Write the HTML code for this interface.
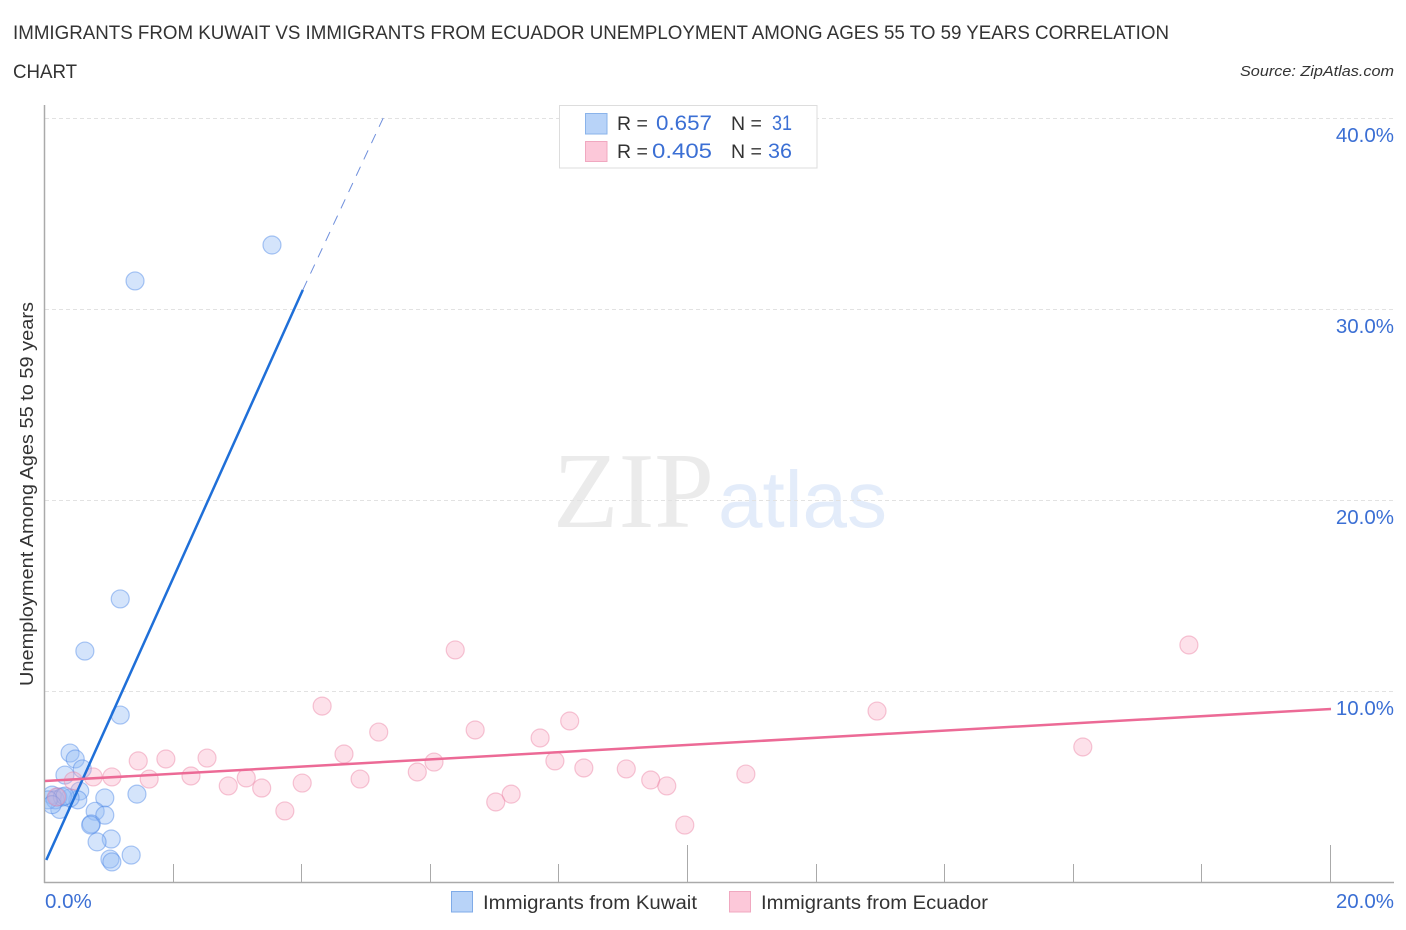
<!DOCTYPE html>
<html lang="en">
<head>
<meta charset="utf-8">
<title>Immigrants from Kuwait vs Immigrants from Ecuador Correlation Chart</title>
<style>
html,body{margin:0;padding:0;background:#fff;}
#chart{display:block;width:1406px;height:930px;font-family:"Liberation Sans",sans-serif;}
</style>
</head>
<body>
<svg id="chart" xmlns="http://www.w3.org/2000/svg" width="1406" height="930" viewBox="0 0 1406 930">
  <defs>
    <clipPath id="plot-clip"><rect x="45" y="100" width="1350" height="783"/></clipPath>
  </defs>
  <rect width="1406" height="930" fill="#ffffff"/>
  <text x="13" y="39" font-size="19.5" fill="#333333" textLength="1156" lengthAdjust="spacingAndGlyphs">IMMIGRANTS FROM KUWAIT VS IMMIGRANTS FROM ECUADOR UNEMPLOYMENT AMONG AGES 55 TO 59 YEARS CORRELATION</text>
  <text x="13" y="78" font-size="19.5" fill="#333333" textLength="64" lengthAdjust="spacingAndGlyphs">CHART</text>
  <text x="1394" y="76" font-size="15" font-style="italic" fill="#333333" text-anchor="end" textLength="154" lengthAdjust="spacingAndGlyphs">Source: ZipAtlas.com</text>

  <g>
    <text x="553" y="527" font-family="'Liberation Serif',serif" font-size="108" fill="#ebebeb" textLength="161" lengthAdjust="spacingAndGlyphs">ZIP</text>
    <text x="718" y="527" font-size="80" fill="#e3ecfa" textLength="169" lengthAdjust="spacingAndGlyphs">atlas</text>
  </g>

  <g id="grid"></g>
  <g id="axes"></g>
  <g id="points-kuwait" clip-path="url(#plot-clip)"></g>
  <g id="points-ecuador" clip-path="url(#plot-clip)"></g>
  <g id="trends" clip-path="url(#plot-clip)"></g>
  <g id="tick-labels"></g>

  <text transform="translate(33,494) rotate(-90)" font-size="18.5" fill="#333333" text-anchor="middle" textLength="384" lengthAdjust="spacingAndGlyphs">Unemployment Among Ages 55 to 59 years</text>

  <g>
    <rect x="559.5" y="105.5" width="257.5" height="62.5" fill="#ffffff" stroke="#dddddd" stroke-width="1"/>
    <rect x="585.5" y="113.5" width="21.5" height="20.5" fill="#b8d3f8" stroke="#8ab3ea" stroke-width="1"/>
    <rect x="585.5" y="141.5" width="21.5" height="20" fill="#fcc8d9" stroke="#f0a8c0" stroke-width="1"/>
    <text x="617" y="130" font-size="19.5" fill="#333333">R =</text>
    <text x="656" y="130" font-size="21.5" fill="#3b6fd4" textLength="56" lengthAdjust="spacingAndGlyphs">0.657</text>
    <text x="731" y="130" font-size="19.5" fill="#333333">N =</text>
    <text x="772" y="130" font-size="21.5" fill="#3b6fd4" textLength="20" lengthAdjust="spacingAndGlyphs">31</text>
    <text x="617" y="158" font-size="19.5" fill="#333333">R =</text>
    <text x="652" y="158" font-size="21.5" fill="#3b6fd4" textLength="60" lengthAdjust="spacingAndGlyphs">0.405</text>
    <text x="731" y="158" font-size="19.5" fill="#333333">N =</text>
    <text x="768" y="158" font-size="21.5" fill="#3b6fd4" textLength="24" lengthAdjust="spacingAndGlyphs">36</text>
  </g>

  <g>
    <rect x="451.5" y="891.5" width="21" height="20.5" fill="#b8d3f8" stroke="#7fabe8" stroke-width="1"/>
    <text x="483" y="909" font-size="19" fill="#333333" textLength="214" lengthAdjust="spacingAndGlyphs">Immigrants from Kuwait</text>
    <rect x="729.5" y="891.5" width="21" height="20.5" fill="#fcc8d9" stroke="#f0a8c0" stroke-width="1"/>
    <text x="761" y="909" font-size="19" fill="#333333" textLength="227" lengthAdjust="spacingAndGlyphs">Immigrants from Ecuador</text>
  </g>
</svg>
<script>
const yTicks = [10, 20, 30, 40];
const yTickLabels = ["10.0%", "20.0%", "30.0%", "40.0%"];
const xTicks = [0, 2, 4, 6, 8, 10, 12, 14, 16, 18, 20];
const xLabelTicks = [0, 20];
const xTickLabels = ["0.0%", "20.0%"];

const kuwaitX = [3.53, 1.40, 1.17, 0.62, 1.17, 0.39, 0.47, 0.58, 0.31, 1.43, 0.93, 0.54, 0.51, 0.39, 0.78, 0.93, 0.72, 0.71, 1.03, 0.81, 1.01, 1.04, 1.34, 0.23, 0.20, 0.11, 0.16, 0.27, 0.31, 0.05, 0.11];
const kuwaitY = [33.35, 31.47, 14.82, 12.09, 8.74, 6.75, 6.44, 5.92, 5.60, 4.60, 4.40, 4.76, 4.30, 4.40, 3.70, 3.50, 3.04, 2.98, 2.25, 2.10, 1.20, 1.05, 1.41, 3.80, 4.45, 4.55, 4.30, 4.45, 4.50, 4.30, 4.05];

const ecuadorX = [17.79, 6.38, 4.31, 12.94, 8.16, 5.19, 6.69, 7.70, 16.14, 4.65, 1.45, 1.88, 2.52, 6.05, 7.93, 8.38, 9.04, 10.90, 5.79, 4.90, 3.13, 2.27, 1.62, 1.04, 0.75, 0.44, 4.00, 9.42, 9.67, 2.85, 3.37, 7.25, 7.01, 3.73, 9.95, 0.18];
const ecuadorY = [12.41, 12.15, 9.21, 8.95, 8.43, 7.85, 7.96, 7.54, 7.07, 6.70, 6.34, 6.44, 6.49, 6.28, 6.34, 5.97, 5.92, 5.65, 5.76, 5.39, 5.45, 5.55, 5.39, 5.50, 5.50, 5.29, 5.18, 5.34, 5.03, 5.03, 4.92, 4.60, 4.19, 3.72, 2.98, 4.45];

const kuwaitTrendX = [0.02, 4.01];
const kuwaitTrendY = [1.15, 31.0];
const kuwaitProjectionX = [4.01, 5.26];
const kuwaitProjectionY = [31.0, 40.0];
const ecuadorTrendX = [0, 20];
const ecuadorTrendY = [5.29, 9.06];

const SVG_NS = "http://www.w3.org/2000/svg";
function xScale(v) { return 45 + v * 64.3; }
function yScale(v) { return 882 - v * 19.1; }
function make(tag, parentId) {
  const el = document.createElementNS(SVG_NS, tag);
  document.getElementById(parentId).appendChild(el);
  return el;
}

yTicks.forEach(function (t, i) {
  const line = make("line", "grid");
  line.setAttribute("x1", 45);
  line.setAttribute("x2", 1394);
  line.setAttribute("y1", yScale(t) + 0.5);
  line.setAttribute("y2", yScale(t) + 0.5);
  line.setAttribute("stroke", "#e2e2e2");
  line.setAttribute("stroke-width", 1);
  line.setAttribute("stroke-dasharray", "4 3");
  
  

  const label = make("text", "tick-labels");
  label.setAttribute("x", 1394);
  label.setAttribute("y", yScale(t) + 24);
  label.setAttribute("font-size", 20.5);
  label.setAttribute("fill", "#3b6fd4");
  label.setAttribute("text-anchor", "end");
  label.textContent = yTickLabels[i];
  
  
});

const yAxisLine = make("line", "axes");
yAxisLine.setAttribute("x1", 44.5);
yAxisLine.setAttribute("x2", 44.5);
yAxisLine.setAttribute("y1", 105);
yAxisLine.setAttribute("y2", 883);
yAxisLine.setAttribute("stroke", "#aaaaaa");
yAxisLine.setAttribute("stroke-width", 1.5);



const xAxisLine = make("line", "axes");
xAxisLine.setAttribute("x1", 44);
xAxisLine.setAttribute("x2", 1394);
xAxisLine.setAttribute("y1", 882.5);
xAxisLine.setAttribute("y2", 882.5);
xAxisLine.setAttribute("stroke", "#aaaaaa");
xAxisLine.setAttribute("stroke-width", 1.5);



xTicks.forEach(function (t) {
  if (t === 0) { return; }
  const tick = make("line", "axes");
  tick.setAttribute("x1", Math.round(xScale(t)) - 0.5);
  tick.setAttribute("x2", Math.round(xScale(t)) - 0.5);
  tick.setAttribute("y1", t % 10 === 0 ? 845 : 864);
  tick.setAttribute("y2", 882);
  tick.setAttribute("stroke", "#aaaaaa");
  tick.setAttribute("stroke-width", 1);
  
  
});

xLabelTicks.forEach(function (t, i) {
  const label = make("text", "tick-labels");
  label.setAttribute("x", i === 0 ? 45 : 1394);
  label.setAttribute("y", 908);
  label.setAttribute("font-size", 20.5);
  label.setAttribute("fill", "#3b6fd4");
  label.setAttribute("text-anchor", i === 0 ? "start" : "end");
  label.textContent = xTickLabels[i];
  
  
});

kuwaitX.forEach(function (v, i) {
  const dot = make("circle", "points-kuwait");
  dot.setAttribute("cx", xScale(v));
  dot.setAttribute("cy", yScale(kuwaitY[i]));
  dot.setAttribute("r", 9);
  dot.setAttribute("fill", "rgba(147,187,245,0.4)");
  dot.setAttribute("stroke", "rgba(74,133,230,0.45)");
  dot.setAttribute("stroke-width", 1.2);
  
  
});

ecuadorX.forEach(function (v, i) {
  const dot = make("circle", "points-ecuador");
  dot.setAttribute("cx", xScale(v));
  dot.setAttribute("cy", yScale(ecuadorY[i]));
  dot.setAttribute("r", 9);
  dot.setAttribute("fill", "rgba(250,170,195,0.35)");
  dot.setAttribute("stroke", "rgba(235,130,165,0.45)");
  dot.setAttribute("stroke-width", 1.2);
  
  
});

const kuwaitProjection = make("line", "trends");
kuwaitProjection.setAttribute("x1", xScale(kuwaitProjectionX[0]));
kuwaitProjection.setAttribute("y1", yScale(kuwaitProjectionY[0]));
kuwaitProjection.setAttribute("x2", xScale(kuwaitProjectionX[1]));
kuwaitProjection.setAttribute("y2", yScale(kuwaitProjectionY[1]));
kuwaitProjection.setAttribute("stroke", "#6f8fdc");
kuwaitProjection.setAttribute("stroke-width", 1);
kuwaitProjection.setAttribute("stroke-dasharray", "10 8");



const kuwaitTrend = make("line", "trends");
kuwaitTrend.setAttribute("x1", xScale(kuwaitTrendX[0]));
kuwaitTrend.setAttribute("y1", yScale(kuwaitTrendY[0]));
kuwaitTrend.setAttribute("x2", xScale(kuwaitTrendX[1]));
kuwaitTrend.setAttribute("y2", yScale(kuwaitTrendY[1]));
kuwaitTrend.setAttribute("stroke", "#1f6fd8");
kuwaitTrend.setAttribute("stroke-width", 2.5);



const ecuadorTrend = make("line", "trends");
ecuadorTrend.setAttribute("x1", xScale(ecuadorTrendX[0]));
ecuadorTrend.setAttribute("y1", yScale(ecuadorTrendY[0]));
ecuadorTrend.setAttribute("x2", xScale(ecuadorTrendX[1]));
ecuadorTrend.setAttribute("y2", yScale(ecuadorTrendY[1]));
ecuadorTrend.setAttribute("stroke", "#ec6a96");
ecuadorTrend.setAttribute("stroke-width", 2.5);


</script>
</body>
</html>
